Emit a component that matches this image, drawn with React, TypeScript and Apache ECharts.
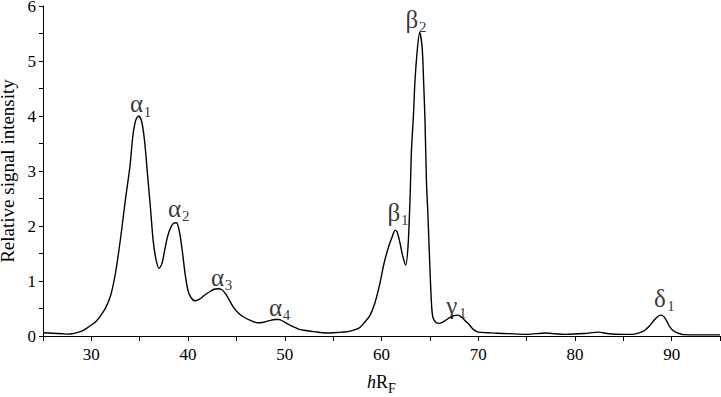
import React, { useEffect, useRef } from "react";
import * as echarts from "echarts";

const xValues = [
  25.0, 26.0, 27.0, 27.5, 28.0, 28.5, 29.0, 29.5, 30.0, 30.5, 31.0, 31.5, 32.0, 32.5, 33.0, 33.5, 34.0, 34.3, 34.6, 34.9,
  35.2, 35.5, 35.8, 36.1, 36.4, 36.7, 37.0, 37.3, 37.6, 37.9, 38.2, 38.5, 38.8, 39.1, 39.4, 39.7, 40.0, 40.3, 40.7, 41.2,
  41.7, 42.2, 42.7, 43.1, 43.5, 43.9, 44.3, 44.7, 45.2, 45.7, 46.5, 47.2, 47.8, 48.4, 49.0, 49.4, 49.9, 50.5, 51.0, 51.5,
  52.2, 53.0, 54.3, 55.5, 56.5, 57.2, 57.8, 58.3, 58.8, 59.3, 59.8, 60.3, 60.8, 61.1, 61.4, 61.6, 61.9, 62.2, 62.5, 62.75,
  62.95, 63.1, 63.3, 63.45, 63.7, 63.95, 64.2, 64.35, 64.5, 64.65, 64.8, 65.0, 65.15, 65.3, 65.6, 66.0, 66.5, 67.0, 67.5, 67.9,
  68.3, 68.7, 69.1, 69.5, 70.0, 71.0, 72.0, 73.0, 75.0, 77.0, 78.0, 79.0, 81.0, 82.4, 83.5, 85.0, 86.0, 86.7, 87.2, 87.7,
  88.2, 88.6, 88.9, 89.2, 89.5, 89.8, 90.2, 90.7, 91.2, 93.0, 95.0,
];
const intensity = [
  0.06, 0.05, 0.04, 0.035, 0.04, 0.06, 0.09, 0.14, 0.2, 0.27, 0.38, 0.52, 0.74, 1.15, 1.75, 2.45, 3.1, 3.65, 3.93, 4.0,
  3.9, 3.55, 2.95, 2.35, 1.72, 1.38, 1.23, 1.32, 1.58, 1.82, 1.97, 2.05, 2.06, 1.9, 1.55, 1.12, 0.82, 0.7, 0.64, 0.67,
  0.74, 0.8, 0.85, 0.86, 0.84, 0.76, 0.64, 0.52, 0.42, 0.35, 0.28, 0.24, 0.25, 0.28, 0.3, 0.3, 0.26, 0.2, 0.16, 0.12,
  0.1, 0.08, 0.055, 0.065, 0.08, 0.11, 0.16, 0.26, 0.37, 0.59, 0.93, 1.35, 1.66, 1.8, 1.92, 1.9, 1.7, 1.45, 1.29, 1.65,
  2.5, 3.38, 4.0, 4.6, 5.2, 5.52, 5.25, 4.65, 3.9, 2.8, 2.2, 1.26, 0.65, 0.35, 0.25, 0.23, 0.27, 0.33, 0.37, 0.38,
  0.34, 0.27, 0.2, 0.12, 0.07, 0.06, 0.05, 0.044, 0.03, 0.055, 0.04, 0.03, 0.045, 0.07, 0.04, 0.03, 0.03, 0.06, 0.1, 0.18,
  0.29, 0.36, 0.38, 0.35, 0.27, 0.17, 0.09, 0.05, 0.025, 0.02, 0.02,
];

const peakLetters = ["α", "α", "α", "α", "β", "β", "γ", "δ"];
const peakSubs = ["1", "2", "3", "4", "1", "2", "1", "1"];
const peakLabelX = [34.68, 38.61, 43.05, 49.05, 61.27, 63.13, 67.27, 88.79];
const peakLabelY = [4.22, 2.32, 1.07, 0.52, 2.25, 5.76, 0.56, 0.69];

const xTicks = [30, 40, 50, 60, 70, 80, 90];
const yTicks = [0, 1, 2, 3, 4, 5, 6];

const FONT = "'Liberation Serif', 'Times New Roman', serif";

export default function App() {
  const ref = useRef<HTMLDivElement>(null);
  useEffect(() => {
    if (!ref.current) return;
    const chart = echarts.init(ref.current, null, { renderer: "svg" });
    const lineData = xValues.map((x, i) => [x, intensity[i]]);
    const letterData = peakLabelX.map((x, i) => [x, peakLabelY[i], peakLetters[i]]);
    const subData = peakLabelX.map((x, i) => [x, peakLabelY[i], peakSubs[i]]);
    const labelBase = {
      show: true,
      position: "inside",
      fontFamily: FONT,
      color: "#000",
      textBorderWidth: 0,
      textBorderColor: "transparent",
      textShadowBlur: 0,
    };
    chart.setOption({
      animation: false,
      backgroundColor: "#fff",
      grid: { left: 43, right: 1, top: 6, bottom: 61, containLabel: false, outerBoundsMode: "none" },
      xAxis: {
        type: "value",
        min: 25,
        max: 95,
        interval: 5,
        name: "{i|h}{r|R}{s|F}",
        nameLocation: "middle",
        nameGap: 33,
        nameTextStyle: {
          color: "#000",
          fontFamily: FONT,
          fontSize: 18,
          rich: {
            i: { fontStyle: "italic", fontSize: 18, fontFamily: FONT, color: "#000" },
            r: { fontSize: 18, fontFamily: FONT, color: "#000" },
            s: { fontSize: 14, fontFamily: FONT, color: "#000", padding: [12, 0, 0, 0] },
          },
        },
        axisLine: { show: true, onZero: false, lineStyle: { color: "#000", width: 1 } },
        axisTick: { show: true, inside: false, length: 5, interval: 0, lineStyle: { color: "#000", width: 1 } },
        minorTick: { show: false },
        axisLabel: {
          color: "#000",
          fontFamily: FONT,
          fontSize: 17,
          margin: 10,
          formatter: (v: number) => (xTicks.includes(v) ? String(v) : ""),
        },
        splitLine: { show: false },
      },
      yAxis: {
        type: "value",
        min: 0,
        max: 6,
        interval: 1,
        name: "Relative signal intensity",
        nameLocation: "middle",
        nameGap: 24,
        nameTextStyle: { color: "#000", fontFamily: FONT, fontSize: 19 },
        axisLine: { show: true, lineStyle: { color: "#000", width: 1 } },
        axisTick: { show: true, inside: false, length: 4, lineStyle: { color: "#000", width: 1 } },
        minorTick: { show: true, splitNumber: 2, length: 4, lineStyle: { color: "#000", width: 1 } },
        axisLabel: {
          color: "#000",
          fontFamily: FONT,
          fontSize: 17,
          margin: 7,
          formatter: (v: number) => (yTicks.includes(v) ? String(v) : ""),
        },
        splitLine: { show: false },
      },
      series: [
        {
          type: "line",
          data: lineData,
          showSymbol: false,
          symbol: "none",
          smooth: 0.3,
          lineStyle: { color: "#000", width: 1.4 },
          z: 2,
        },
        {
          type: "scatter",
          data: letterData,
          symbolSize: 0,
          silent: true,
          itemStyle: { color: "#000" },
          label: { ...labelBase, fontSize: 25, formatter: (p: any) => p.data[2] },
          z: 3,
        },
        {
          type: "scatter",
          data: subData,
          symbolSize: 0,
          silent: true,
          itemStyle: { color: "#000" },
          label: { ...labelBase, fontSize: 15, offset: [11, 8], formatter: (p: any) => p.data[2] },
          z: 3,
        },
      ],
    });
    return () => chart.dispose();
  }, []);
  return <div ref={ref} style={{ width: 721, height: 397, position: "absolute", left: 0, top: 0 }} />;
}
